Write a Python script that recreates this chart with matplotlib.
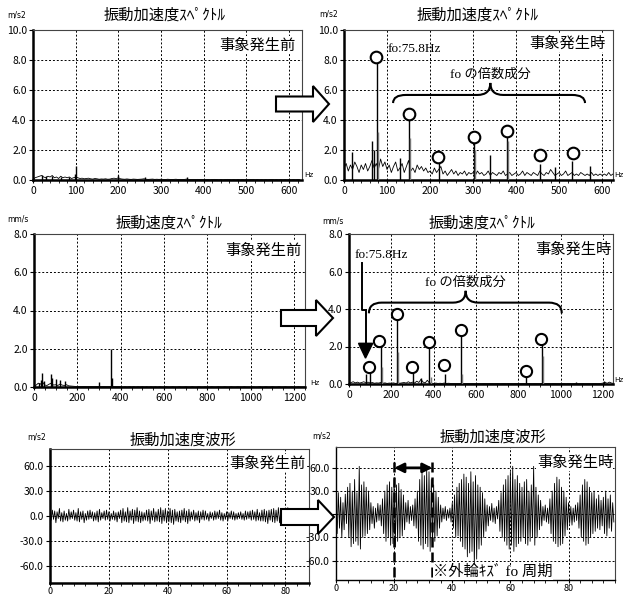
import numpy as np
import matplotlib
matplotlib.use('Agg')
import matplotlib.pyplot as plt
from matplotlib.patches import Polygon, PathPatch
from matplotlib.path import Path
from matplotlib.ticker import MultipleLocator, FormatStrFormatter

plt.rcParams['font.family'] = ['Noto Sans CJK JP', 'DejaVu Sans']
MIX = ['Liberation Serif', 'Noto Sans CJK JP', 'DejaVu Sans']

# ---------------- data ----------------
# Panel 1: acceleration spectrum before (5 Hz grid noise + peaks)
acc_before_df = 5
acc_before_noise = [
    0.05, 0.15, 0.2, 0.25, 0.3, 0.2, 0.15, 0.25, 0.2, 0.3, 0.15, 0.2, 0.1, 0.25, 0.15, 0.2, 0.15, 0.2, 0.1, 0.15,
    0.2, 0.15, 0.1, 0.12, 0.08, 0.1, 0.12, 0.08, 0.06, 0.1, 0.08, 0.05, 0.07, 0.06, 0.08, 0.05, 0.06, 0.1, 0.12, 0.08,
    0.15, 0.08, 0.06, 0.05, 0.07, 0.05, 0.04, 0.06, 0.05, 0.04, 0.05, 0.06, 0.08, 0.05, 0.04, 0.05, 0.06, 0.04, 0.05, 0.04,
    0.05, 0.04, 0.03, 0.05, 0.04, 0.03, 0.04, 0.05, 0.03, 0.04, 0.03, 0.04, 0.06, 0.04, 0.03, 0.04, 0.03, 0.04, 0.03, 0.04,
    0.03, 0.04, 0.03, 0.02, 0.03, 0.04, 0.03, 0.02, 0.03, 0.02, 0.03, 0.04, 0.03, 0.02, 0.03, 0.02, 0.03, 0.02, 0.03, 0.02,
    0.03, 0.02, 0.03, 0.04, 0.02, 0.03, 0.02, 0.03, 0.02, 0.03, 0.02, 0.03, 0.04, 0.02, 0.03, 0.02, 0.03, 0.02, 0.03, 0.02,
    0.03, 0.02, 0.03, 0.02, 0.03, 0.02,
]
acc_before_pk_f = [20, 30, 45, 65, 85, 98, 100, 200, 262, 360]
acc_before_pk_a = [0.35, 0.3, 0.25, 0.2, 0.22, 0.4, 0.95, 0.35, 0.2, 0.22]

# Panel 2: acceleration spectrum during event
acc_after_df = 5
acc_after_noise = [
    0.8, 1.1, 0.6, 1.0, 0.7, 1.2, 0.9, 0.5, 1.0, 0.7, 1.1, 0.6, 0.9, 1.3, 0.8, 1.1, 0.7, 1.4, 0.9, 1.2,
    0.7, 1.0, 0.5, 0.9, 1.2, 0.6, 0.8, 1.1, 0.5, 0.9, 1.3, 0.6, 0.8, 0.5, 1.0, 0.7, 0.9, 0.6, 0.8, 0.5,
    0.6, 0.4, 0.8, 0.5, 0.7, 0.9, 0.4, 0.6, 0.3, 0.5, 0.7, 0.4, 0.6, 0.3, 0.5, 0.4, 0.6, 0.3, 0.5, 0.4,
    0.5, 0.3, 0.6, 0.4, 0.5, 0.3, 0.4, 0.6, 0.3, 0.5, 0.4, 0.3, 0.5, 0.4, 0.6, 0.3, 0.4, 0.5, 0.3, 0.4,
    0.5, 0.3, 0.4, 0.6, 0.3, 0.5, 0.4, 0.3, 0.5, 0.4, 0.3, 0.6, 0.4, 0.3, 0.5, 0.4, 0.7, 0.5, 0.3, 0.4,
    0.5, 0.3, 0.4, 0.6, 0.3, 0.4, 0.5, 0.3, 0.4, 0.3, 0.5, 0.4, 0.3, 0.4, 0.3, 0.5, 0.3, 0.4, 0.3, 0.4,
    0.3, 0.4, 0.3, 0.5, 0.3, 0.4,
]
acc_after_pk_f = [18, 65, 70, 75.8, 130, 151.6, 220, 303, 340, 379, 455, 490, 530, 572]
acc_after_pk_a = [1.9, 2.6, 2.0, 8.0, 1.5, 4.2, 1.35, 2.55, 1.65, 3.0, 1.1, 0.9, 1.25, 0.95]
acc_after_pk2_f = [78, 153.5, 305, 381]
acc_after_pk2_a = [3.2, 2.8, 2.0, 2.6]
acc_circle_f = [75, 152, 218, 301, 378, 455, 532]
acc_circle_a = [8.2, 4.4, 1.55, 2.9, 3.3, 1.65, 1.8]

# Panel 3: velocity spectrum before (10 Hz grid)
vel_before_df = 10
vel_before_noise = [
    0.02, 0.1, 0.2, 0.15, 0.25, 0.1, 0.08, 0.15, 0.2, 0.1, 0.12, 0.08, 0.15, 0.1, 0.08, 0.12, 0.06, 0.05, 0.04, 0.03,
    0.03, 0.02, 0.02, 0.03, 0.02, 0.02, 0.03, 0.02, 0.02, 0.03, 0.02, 0.02, 0.03, 0.02, 0.02, 0.02, 0.03, 0.02, 0.02, 0.02,
    0.02, 0.01, 0.02, 0.01, 0.02, 0.01, 0.02, 0.01, 0.02, 0.01, 0.02, 0.01, 0.02, 0.01, 0.02, 0.01, 0.02, 0.01, 0.02, 0.01,
    0.01, 0.02, 0.01, 0.01, 0.02, 0.01, 0.01, 0.02, 0.01, 0.01, 0.02, 0.01, 0.01, 0.02, 0.01, 0.01, 0.02, 0.01, 0.01, 0.02,
    0.01, 0.01, 0.02, 0.01, 0.01, 0.02, 0.01, 0.01, 0.02, 0.01, 0.01, 0.02, 0.01, 0.01, 0.02, 0.01, 0.01, 0.02, 0.01, 0.01,
    0.01, 0.02, 0.01, 0.01, 0.02, 0.01, 0.01, 0.02, 0.01, 0.01, 0.02, 0.01, 0.01, 0.02, 0.01, 0.01, 0.02, 0.01, 0.01, 0.02,
    0.01, 0.01, 0.02, 0.01, 0.01, 0.01,
]
vel_before_pk_f = [25, 30, 35, 45, 77, 82, 100, 118, 145, 301, 355, 360]
vel_before_pk_a = [0.2, 0.35, 0.75, 0.3, 0.7, 0.45, 0.4, 0.38, 0.3, 0.25, 2.0, 0.45]

# Panel 4: velocity spectrum during event
vel_after_df = 10
vel_after_noise = [
    0.02, 0.08, 0.12, 0.06, 0.1, 0.05, 0.08, 0.12, 0.06, 0.1, 0.05, 0.08, 0.04, 0.06, 0.05, 0.08, 0.04, 0.06, 0.03, 0.05,
    0.04, 0.06, 0.03, 0.05, 0.04, 0.06, 0.08, 0.05, 0.12, 0.06, 0.1, 0.05, 0.15, 0.08, 0.25, 0.1, 0.06, 0.2, 0.05, 0.04,
    0.03, 0.05, 0.03, 0.04, 0.03, 0.05, 0.03, 0.04, 0.03, 0.02, 0.03, 0.02, 0.03, 0.02, 0.03, 0.02, 0.03, 0.02, 0.03, 0.02,
    0.02, 0.03, 0.02, 0.02, 0.03, 0.02, 0.02, 0.03, 0.02, 0.02, 0.03, 0.02, 0.02, 0.03, 0.02, 0.02, 0.03, 0.02, 0.02, 0.03,
    0.02, 0.02, 0.03, 0.02, 0.02, 0.03, 0.02, 0.02, 0.03, 0.02, 0.02, 0.03, 0.02, 0.02, 0.03, 0.02, 0.02, 0.03, 0.02, 0.02,
    0.02, 0.03, 0.02, 0.02, 0.03, 0.02, 0.02, 0.03, 0.02, 0.02, 0.03, 0.02, 0.02, 0.03, 0.02, 0.02, 0.03, 0.02, 0.02, 0.03,
    0.05, 0.08, 0.04, 0.1, 0.05, 0.03,
]
vel_after_pk_f = [80, 98, 152, 228, 303, 340, 380, 455, 531, 835, 912, 1070, 1205]
vel_after_pk_a = [0.55, 0.7, 2.2, 3.6, 0.6, 0.3, 2.1, 0.55, 2.7, 0.35, 2.3, 0.12, 0.15]
vel_after_pk2_f = [155, 233, 385, 536, 915]
vel_after_pk2_a = [0.9, 1.7, 0.4, 0.55, 1.5]
vel_circle_f = [96, 143, 225, 299, 376, 450, 529, 835, 908]
vel_circle_a = [0.92, 2.31, 3.72, 0.92, 2.25, 1.0, 2.88, 0.71, 2.38]

# Panel 5/6: acceleration waveforms (0.4 ms sampling)
wave_dt = 0.4
wave_before = [
    3, -5, 7, -4, 6, -8, 5, -3, 9, -6,
    4, -7, 6, -5, 3, -6, 8, -4, 5, -3,
    7, -5, 4, -6, 9, -7, 5, -4, 6, -8,
    3, -5, 6, -4, 7, -3, 5, -6, 4, -5,
    6, -7, 8, -5, 4, -3, 6, -5, 7, -4,
    5, -6, 3, -4, 6, -5, 4, -7, 5, -3,
    7, -8, 9, -6, 5, -7, 10, -8, 6, -5,
    8, -9, 7, -6, 10, -7, 6, -8, 5, -6,
    4, -5, 7, -6, 8, -9, 6, -5, 9, -7,
    5, -6, 8, -7, 10, -9, 7, -6, 9, -8,
    6, -7, 9, -8, 7, -10, 8, -6, 5, -7,
    6, -8, 7, -5, 9, -7, 6, -9, 8, -6,
    5, -4, 7, -6, 4, -5, 6, -8, 5, -4,
    7, -5, 6, -4, 3, -6, 5, -3, 4, -5,
    6, -4, 5, -3, 7, -5, 4, -6, 3, -4,
    5, -6, 4, -3, 6, -4, 5, -5, 3, -4,
    4, -3, 5, -4, 3, -5, 6, -4, 5, -3,
    6, -5, 7, -4, 5, -6, 8, -5, 4, -6,
    7, -6, 8, -7, 6, -9, 7, -5, 8, -7,
    9, -8, 7, -6, 10, -8, 6, -9, 8, -7,
    7, -9, 10, -8, 6, -7, 9, -6, 8, -10,
    6, -8, 7, -5, 9, -6, 5, -7, 8, -4,
]
wave_after = [
    12, -25, 28, -18, 22, -30, 15, -20, 26, -12,
    35, -30, 40, -42, 30, -38, 45, -35, 28, -40,
    62, -45, 38, -30, 42, -28, 35, -25, 30, -20,
    15, -12, 10, -18, 8, -10, 14, -8, 12, -15,
    20, -25, 30, -35, 38, -30, 42, -40, 35, -38,
    45, -42, 38, -35, 40, -30, 32, -28, 25, -20,
    15, -10, 18, -12, 10, -8, 12, -15, 20, -18,
    30, -35, 45, -40, 55, -45, 50, -38, 58, -42,
    55, -48, 45, -40, 38, -35, 30, -28, 22, -18,
    12, -10, 8, -6, 10, -8, 6, -5, 8, -10,
    15, -18, 25, -30, 35, -28, 40, -35, 45, -42,
    52, -45, 48, -55, 40, -50, 55, -48, 42, -65,
    50, -58, 38, -45, 35, -40, 28, -30, 20, -22,
    12, -15, 10, -8, 14, -10, 8, -12, 10, -6,
    18, -22, 28, -30, 38, -35, 45, -40, 50, -45,
    55, -40, 62, -48, 45, -42, 50, -38, 40, -35,
    35, -30, 42, -38, 45, -40, 30, -35, 38, -30,
    62, -40, 35, -30, 25, -20, 18, -15, 10, -8,
    12, -10, 8, -12, 20, -25, 30, -35, 40, -38,
    48, -42, 45, -40, 35, -38, 30, -28, 22, -20,
    15, -12, 10, -14, 8, -10, 12, -8, 15, -18,
    25, -30, 38, -35, 45, -40, 42, -38, 35, -30,
    28, -25, 30, -22, 20, -18, 25, -20, 18, -15,
    22, -25, 30, -28, 20, -18, 25, -22, 15, -10,
]
period_marks = [20.0, 33.2]

# ---------------- figure ----------------
W, H = 625, 597
fig = plt.figure(figsize=(W / 100, H / 100), dpi=100)


def rect(l, t, r, b):
    return [l / W, 1 - b / H, (r - l) / W, (b - t) / H]


def fx(x):
    return x / W


def fy(y):
    return 1 - y / H


def style(ax, xlim, ylim, xmaj, xmin, ymaj, thick=True, xlabsize=7.5, xpad=1.5):
    ax.set_xlim(*xlim)
    ax.set_ylim(*ylim)
    ax.xaxis.set_major_locator(MultipleLocator(xmaj))
    ax.xaxis.set_minor_locator(MultipleLocator(xmin))
    ax.yaxis.set_major_locator(MultipleLocator(ymaj))
    ax.yaxis.set_major_formatter(FormatStrFormatter('%.1f'))
    ax.grid(True, which='major', color='black', linestyle=(0, (2, 2)), linewidth=0.7)
    ax.set_axisbelow(True)
    lw_main = 1.8 if thick else 1.0
    for s in ['left', 'bottom']:
        ax.spines[s].set_linewidth(lw_main)
    for s in ['top', 'right']:
        ax.spines[s].set_linewidth(0.8)
        ax.spines[s].set_color('#444444')
    ax.tick_params(which='major', direction='out', length=3, width=0.8, labelsize=7.5, pad=1.5)
    ax.tick_params(axis='x', which='major', labelsize=xlabsize, pad=xpad, length=2.5)
    ax.tick_params(which='minor', direction='out', length=2, width=0.6)
    ax.tick_params(axis='y', which='minor', left=False)


def brace(ax, x0, x1, xm, ye, yh, ym, d):
    verts = [(x0, ye), (x0, yh), (x0 + d, yh), (xm - d, yh), (xm, yh), (xm, ym),
             (xm, yh), (xm + d, yh), (x1 - d, yh), (x1, yh), (x1, ye)]
    codes = [Path.MOVETO, Path.CURVE3, Path.CURVE3, Path.LINETO, Path.CURVE3, Path.CURVE3,
             Path.CURVE3, Path.CURVE3, Path.LINETO, Path.CURVE3, Path.CURVE3]
    ax.add_patch(PathPatch(Path(verts, codes), fill=False, lw=1.5, color='black', zorder=6))


def spectrum(ax, df, noise, pk_f, pk_a, pk2_f=None, pk2_a=None):
    f = np.arange(len(noise)) * df
    ax.plot(f, noise, color='black', lw=0.6, zorder=3)
    ax.vlines(pk_f, 0, pk_a, color='black', lw=1.0, zorder=4)
    if pk2_f is not None:
        ax.vlines(pk2_f, 0, pk2_a, color='#777777', lw=1.0, zorder=4)


# Panel 1
ax1 = fig.add_axes(rect(33, 30, 302, 180))
style(ax1, (0, 630), (0, 10), 100, 20, 2)
spectrum(ax1, acc_before_df, acc_before_noise, acc_before_pk_f, acc_before_pk_a)

# Panel 2
ax2 = fig.add_axes(rect(344, 30, 613, 180))
style(ax2, (0, 625), (0, 10), 100, 20, 2)
spectrum(ax2, acc_after_df, acc_after_noise, acc_after_pk_f, acc_after_pk_a, acc_after_pk2_f, acc_after_pk2_a)
ax2.scatter(acc_circle_f, acc_circle_a, s=70, facecolors='white', edgecolors='black', linewidths=1.5, zorder=5)
ax2.text(102, 8.75, 'fo:75.8Hz', family=MIX, fontsize=9.5, ha='left', va='center', zorder=7)
ax2.text(340, 7.0, 'fo の倍数成分', family=MIX, fontsize=9.5, ha='center', va='center', zorder=7)
brace(ax2, 114, 560, 340, 5.13, 5.67, 6.47, 30)

# Panel 3
ax3 = fig.add_axes(rect(34, 234, 305, 387))
style(ax3, (0, 1250), (0, 8), 200, 50, 2)
spectrum(ax3, vel_before_df, vel_before_noise, vel_before_pk_f, vel_before_pk_a)

# Panel 4
ax4 = fig.add_axes(rect(349, 234, 613, 384))
style(ax4, (0, 1247), (0, 8), 200, 50, 2)
spectrum(ax4, vel_after_df, vel_after_noise, vel_after_pk_f, vel_after_pk_a, vel_after_pk2_f, vel_after_pk2_a)
ax4.scatter(vel_circle_f, vel_circle_a, s=65, facecolors='white', edgecolors='black', linewidths=1.5, zorder=5)
ax4.text(25, 6.9, 'fo:75.8Hz', family=MIX, fontsize=9.5, ha='left', va='center', zorder=7)
ax4.text(551, 5.4, 'fo の倍数成分', family=MIX, fontsize=9.5, ha='center', va='center', zorder=7,
         bbox=dict(facecolor='white', edgecolor='none', pad=0.5))
brace(ax4, 94, 1005, 551, 3.77, 4.34, 4.97, 60)
ax4.plot([60, 60, 78, 78], [6.44, 3.95, 3.95, 2.1], color='black', lw=1.4, zorder=6)
ax4.add_patch(Polygon([(45, 2.17), (112, 2.17), (78, 1.38)], closed=True, facecolor='black',
                      edgecolor='black', zorder=6))

# Panel 5
ax5 = fig.add_axes(rect(50, 449, 309, 583))
style(ax5, (0, 88), (-80, 80), 20, 4, 30, xlabsize=6.5, xpad=0.5)
t5 = np.arange(len(wave_before)) * wave_dt
ax5.plot(t5, wave_before, color='black', lw=0.6, zorder=3)

# Panel 6
ax6 = fig.add_axes(rect(336, 447, 615, 580))
style(ax6, (0, 96), (-85, 87), 20, 4, 30, thick=False, xlabsize=6.5, xpad=0.5)
t6 = np.arange(len(wave_after)) * wave_dt
ax6.plot(t6, wave_after, color='black', lw=0.6, zorder=3)
ax6.vlines(period_marks, -81, 74, color='black', lw=1.8, linestyles=(0, (4, 2)), zorder=6)
ax6.annotate('', xy=(period_marks[1], 60), xytext=(period_marks[0], 60),
             arrowprops=dict(arrowstyle='<|-|>', color='black', lw=2, mutation_scale=14,
                             shrinkA=0, shrinkB=0), zorder=7)
ax6.text(33.5, -75, '※外輪ｷｽﾞ fo 周期', family=MIX, fontsize=11, ha='left', va='center', zorder=7,
         bbox=dict(facecolor='white', edgecolor='none', pad=0.3))

# Titles
fig.text(fx(165), fy(15), '振動加速度ｽﾍﾟｸﾄﾙ', fontsize=11, ha='center', va='center')
fig.text(fx(478), fy(15), '振動加速度ｽﾍﾟｸﾄﾙ', fontsize=11, ha='center', va='center')
fig.text(fx(169), fy(223), '振動速度ｽﾍﾟｸﾄﾙ', fontsize=11, ha='center', va='center')
fig.text(fx(482), fy(223), '振動速度ｽﾍﾟｸﾄﾙ', fontsize=11, ha='center', va='center')
fig.text(fx(183), fy(440), '振動加速度波形', fontsize=11, ha='center', va='center')
fig.text(fx(493), fy(437), '振動加速度波形', fontsize=11, ha='center', va='center')

# Event labels
for (x, y, s) in [(296, 45, '事象発生前'), (606, 43, '事象発生時'), (302, 250, '事象発生前'),
                  (612, 249, '事象発生時'), (306, 463, '事象発生前'), (613, 462, '事象発生時')]:
    fig.text(fx(x), fy(y), s, fontsize=11, ha='right', va='center', zorder=8,
             bbox=dict(facecolor='white', edgecolor='none', pad=0.3))

# Units
for (x, y, s) in [(7, 15, 'm/s2'), (319, 14, 'm/s2'), (7, 219, 'mm/s'), (322, 221, 'mm/s'),
                  (27, 437, 'm/s2'), (312, 436, 'm/s2')]:
    fig.text(fx(x), fy(y), s, fontsize=5.5, ha='left', va='center', family='DejaVu Sans')
for (x, y) in [(304, 175), (614, 175), (310, 383), (614, 380)]:
    fig.text(fx(x), fy(y), 'Hz', fontsize=5.2, ha='left', va='center', family='DejaVu Sans')

# Hollow block arrows between panels
for (xb, yc, bh, xh, hh, xt) in [(276, 104, 7.5, 313, 18, 329), (281, 318, 8, 316, 18, 333),
                                  (281, 517, 8, 318, 17, 334)]:
    pts = [(xb, yc - bh), (xh, yc - bh), (xh, yc - hh), (xt, yc), (xh, yc + hh), (xh, yc + bh), (xb, yc + bh)]
    fig.add_artist(Polygon([(fx(a), fy(b)) for a, b in pts], closed=True, facecolor='white',
                           edgecolor='black', lw=1.5, transform=fig.transFigure, zorder=10))

fig.savefig('out.png', dpi=100)
